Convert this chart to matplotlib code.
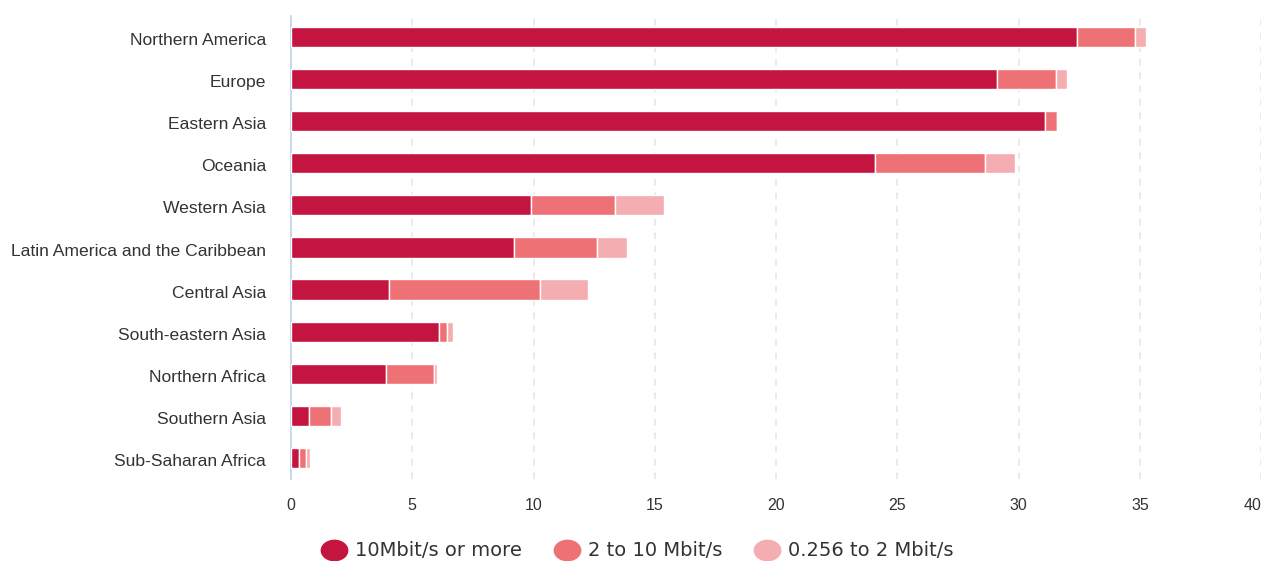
import matplotlib
matplotlib.use("Agg")
import matplotlib.pyplot as plt
from matplotlib.lines import Line2D
from matplotlib.path import Path
from matplotlib.transforms import Affine2D, ScaledTranslation

# regions, top to bottom
regions = ["Northern America", "Europe", "Eastern Asia", "Oceania", "Western Asia",
           "Latin America and the Caribbean", "Central Asia", "South-eastern Asia",
           "Northern Africa", "Southern Asia", "Sub-Saharan Africa"]

# subscriptions per 100 inhabitants, by speed tier
fast = [32.4, 29.1, 31.1, 24.1, 9.9, 9.2, 4.05, 6.1, 3.9, 0.75, 0.35]
mid = [2.4, 2.45, 0.5, 4.5, 3.45, 3.4, 6.2, 0.35, 2.0, 0.9, 0.25]
slow = [0.45, 0.45, 0.0, 1.25, 2.05, 1.25, 2.0, 0.25, 0.1, 0.4, 0.2]

series_names = ["10Mbit/s or more", "2 to 10 Mbit/s", "0.256 to 2 Mbit/s"]
colors = ["#C41541", "#EE7176", "#F4AEB1"]

fig = plt.figure(figsize=(12.63, 5.61), dpi=100)
ax = fig.add_axes([0.2304, 0.1462, 0.7681, 0.8253])

y = list(range(len(regions)))
left = [0.0] * len(regions)
for vals, col in zip([fast, mid, slow], colors):
    ax.barh(y, vals, left=left, height=0.48, color=col, edgecolor="white", linewidth=1.0, zorder=3)
    left = [l + v for l, v in zip(left, vals)]

ax.set_xlim(0, 40)
ax.set_ylim(len(regions) - 0.5, -0.5)
ax.set_yticks(y)
ax.set_yticklabels(regions, fontsize=12.6, color="#333333", family="Liberation Sans")
ax.set_xticks(range(0, 41, 5))
ax.set_xticklabels([str(v) for v in range(0, 41, 5)], fontsize=11.5, color="#333333", family="Liberation Sans")
ax.get_xticklabels()[-1].set_horizontalalignment("right")
ax.tick_params(axis="both", length=0)
ax.tick_params(axis="x", pad=14)
ax.tick_params(axis="y", pad=18)

# category labels sit a touch below the bar centre
shift = ScaledTranslation(0, -1.5 / 72, fig.dpi_scale_trans)
for lab in ax.get_yticklabels():
    lab.set_transform(lab.get_transform() + shift)

ax.grid(axis="x", color="#E6E6E6", linestyle=(0, (4, 4)), linewidth=1.2, zorder=0)
for s in ["top", "right", "bottom"]:
    ax.spines[s].set_visible(False)
ax.spines["left"].set_color("#BFD3E6")
ax.spines["left"].set_linewidth(1.2)

# oval legend symbols
oval = Path.unit_circle().transformed(Affine2D().scale(1.3, 1.0))
handles = [Line2D([], [], marker=oval, linestyle="none", markersize=19, markerfacecolor=c,
                  markeredgecolor=c) for c in colors]
fig.legend(handles, series_names, loc="center", bbox_to_anchor=(0.502, 0.018), ncol=3,
           frameon=False, fontsize=14, handletextpad=0.1, columnspacing=1.3,
           labelcolor="#333333")

fig.savefig("out.png", dpi=100)
